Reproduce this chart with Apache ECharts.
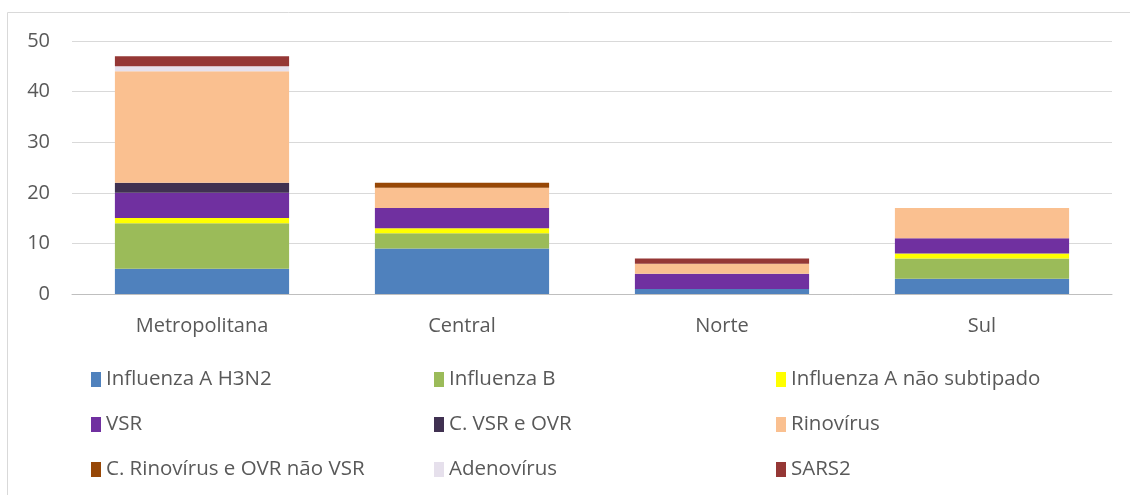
<!DOCTYPE html>
<html><head><meta charset="utf-8">
<script src="https://cdn.jsdelivr.net/npm/echarts@6/dist/echarts.min.js"></script>
<style>html,body{margin:0;padding:0;background:#fff}#c{width:1130px;height:495px}</style>
</head><body><div id="c"></div>
<script>
const categories = ['Metropolitana', 'Central', 'Norte', 'Sul'];
const seriesNames = ['Influenza A H3N2', 'Influenza B', 'Influenza A não subtipado', 'VSR', 'C. VSR e OVR', 'Rinovírus', 'C. Rinovírus e OVR não VSR', 'Adenovírus', 'SARS2'];
const h3n2 = [5, 9, 1, 3];
const infB = [9, 3, 0, 4];
const infANS = [1, 1, 0, 1];
const vsr = [5, 4, 3, 3];
const cVsrOvr = [2, 0, 0, 0];
const rino = [22, 4, 2, 6];
const cRinoOvr = [0, 1, 0, 0];
const adeno = [1, 0, 0, 0];
const sars2 = [2, 0, 1, 0];
const yTicks = [0, 10, 20, 30, 40, 50];
const colors = ['#4f81bd', '#9bbb59', '#ffff00', '#7030a0', '#403151', '#fac090', '#974706', '#e6e0ec', '#953735'];
const values = [h3n2, infB, infANS, vsr, cVsrOvr, rino, cRinoOvr, adeno, sars2];

const font = '"Open Sans", "Liberation Sans", sans-serif';
const chart = echarts.init(document.getElementById('c'));
const legendCols = [[0, 3, 6], [1, 4, 7], [2, 5, 8]];
const legendLefts = [86, 429, 771];
chart.setOption({
  animation: false,
  graphic: [{type: 'rect', shape: {x: 7.5, y: 12.5, width: 1130, height: 490}, style: {fill: 'none', stroke: '#d9d9d9', lineWidth: 1}, silent: true}],
  grid: {left: 72, right: 18, top: 41, bottom: 201, containLabel: false},
  legend: legendCols.map((col, i) => ({
    orient: 'vertical', left: legendLefts[i], top: 364, itemGap: 24,
    itemWidth: 10, itemHeight: 15, icon: 'rect',
    data: col.map(k => seriesNames[k]),
    textStyle: {fontFamily: font, fontSize: 20.5, lineHeight: 20, color: '#595959', padding: [0, 0, 0, 0]}
  })),
  xAxis: {
    type: 'category', data: categories,
    axisLine: {lineStyle: {color: '#bfbfbf', width: 1}},
    axisTick: {show: false},
    axisLabel: {fontFamily: font, fontSize: 20, color: '#595959', margin: 22}
  },
  yAxis: {
    type: 'value', min: 0, max: 50, interval: 10,
    axisLine: {show: false}, axisTick: {show: false},
    splitLine: {lineStyle: {color: '#d9d9d9', width: 1}},
    axisLabel: {fontFamily: font, fontSize: 20, color: '#595959', margin: 22,
      formatter: v => yTicks.includes(v) ? String(v) : ''}
  },
  series: seriesNames.map((n, i) => ({
    name: n, type: 'bar', stack: 'total', barWidth: '67%',
    data: values[i],
    itemStyle: {color: colors[i]}
  }))
});
</script></body></html>
